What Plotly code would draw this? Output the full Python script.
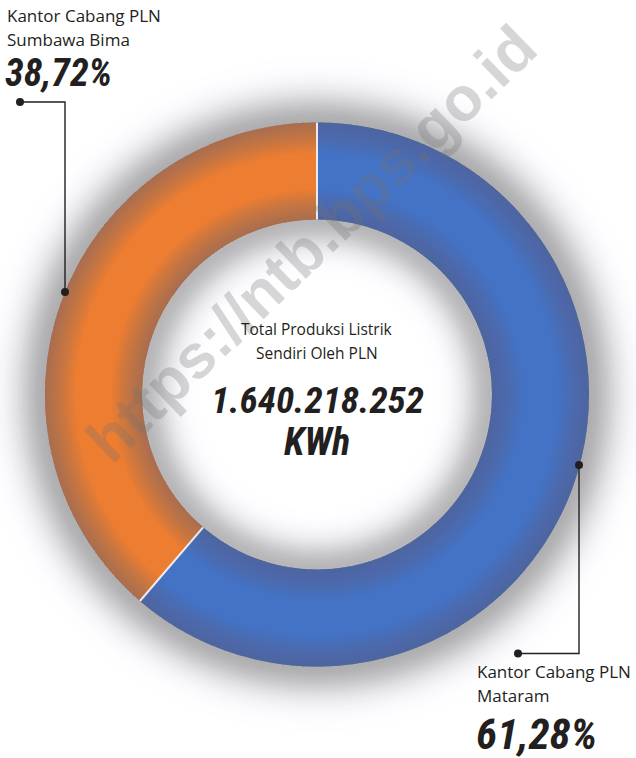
import math
import plotly.graph_objects as go

# ---- data ----
branches = ["Kantor Cabang PLN Mataram", "Kantor Cabang PLN Sumbawa Bima"]
label_line1 = ["Kantor Cabang PLN", "Kantor Cabang PLN"]
label_line2 = ["Mataram", "Sumbawa Bima"]
shares = [61.28, 38.72]
share_text = ["61,28%", "38,72%"]
colors = ["#4472C4", "#ED7D31"]
center_title = ["Total Produksi Listrik", "Sendiri Oleh PLN"]
total_text = "1.640.218.252"
unit_text = "KWh"
watermark = "https://ntb.bps.go.id"

# ---- geometry (pixels) ----
W, H = 636, 758
CX, CY = 317, 394.5
R_OUT, R_IN = 272, 175
INK = "#231f20"
HAND = "Liberation Sans Narrow, Roboto Condensed, Liberation Sans"
SANS = "Open Sans, Noto Sans, sans-serif"


def domain(rad):
    return dict(x=[(CX - rad) / W, (CX + rad) / W],
                y=[1 - (CY + rad) / H, 1 - (CY - rad) / H])


fig = go.Figure()

# invisible trace to anchor the pixel axes
fig.add_trace(go.Scatter(x=[0, W], y=[0, H], mode="markers",
                         marker=dict(opacity=0), hoverinfo="skip", showlegend=False))

# main donut
fig.add_trace(go.Pie(values=shares, labels=branches, marker=dict(colors=colors, line=dict(width=0)),
                     hole=R_IN / R_OUT, sort=False, direction="clockwise", rotation=0,
                     textinfo="none", hoverinfo="label+percent", showlegend=False,
                     domain=domain(R_OUT)))

# edge shading of the ring (outer edge)
shade = "rgba(105,108,118,0.038)"
for d in range(2, 32, 2):
    fig.add_trace(go.Pie(values=[1], marker=dict(colors=[shade], line=dict(width=0)),
                         hole=(R_OUT - d) / R_OUT, sort=False, textinfo="none",
                         hoverinfo="skip", showlegend=False, domain=domain(R_OUT)))
# edge shading of the ring (inner edge)
for d in range(2, 32, 2):
    fig.add_trace(go.Pie(values=[1], marker=dict(colors=[shade], line=dict(width=0)),
                         hole=R_IN / (R_IN + d), sort=False, textinfo="none",
                         hoverinfo="skip", showlegend=False, domain=domain(R_IN + d)))

shapes = []
# soft shadow around the ring (drawn below), largest first
def grey(v):
    v = int(round(v))
    return f"rgb({v},{v},{min(255, v + 3)})"

for rad in range(R_OUT + 90, R_OUT - 1, -2):
    d = rad - R_OUT
    v = 255 - 80 * math.exp(-(d / 30.0) ** 2)
    shapes.append(dict(type="circle", xref="x", yref="y", layer="below",
                       x0=CX - rad, x1=CX + rad, y0=CY - rad, y1=CY + rad,
                       fillcolor=grey(v), line=dict(width=0)))
for rad in range(R_IN + 2, R_IN - 80, -2):
    d = max(0, R_IN - rad)
    v = 255 - 72 * math.exp(-(d / 26.0) ** 2)
    shapes.append(dict(type="circle", xref="x", yref="y", layer="below",
                       x0=CX - rad, x1=CX + rad, y0=CY - rad, y1=CY + rad,
                       fillcolor=grey(v), line=dict(width=0)))

# slice separators
cum = 0.0
tot = sum(shares)
for s in shares:
    th = 2 * math.pi * cum / tot
    shapes.append(dict(type="line", xref="x", yref="y",
                       x0=CX + R_IN * math.sin(th), y0=CY - R_IN * math.cos(th),
                       x1=CX + R_OUT * math.sin(th), y1=CY - R_OUT * math.cos(th),
                       line=dict(color="rgba(255,255,255,0.85)", width=2)))
    cum += s

# leader lines
shapes.append(dict(type="path", xref="x", yref="y", path="M 579 465 L 579 653.5 L 518 653.5",
                   line=dict(color=INK, width=1.4)))
shapes.append(dict(type="path", xref="x", yref="y", path="M 65 292 L 65 102 L 20 102",
                   line=dict(color=INK, width=1.4)))
for (x, y) in [(579, 465), (518, 653.5), (65, 292), (20, 102)]:
    shapes.append(dict(type="circle", xref="x", yref="y", x0=x - 4, x1=x + 4, y0=y - 4, y1=y + 4,
                       fillcolor=INK, line=dict(width=0)))

ann = []
# watermark
ann.append(dict(x=311, y=243, xref="x", yref="y", text=watermark, showarrow=False,
                textangle=-44, font=dict(family="Liberation Sans, Arial", size=62,
                                         color="rgba(115,115,115,0.29)", weight="bold")))

def txt(x, y, t, size, family=SANS, xanchor="left", bold=False, italic=False):
    f = dict(family=family, size=size, color=INK)
    if bold:
        f["weight"] = "bold"
    if italic:
        f["style"] = "italic"
    ann.append(dict(x=x, y=y, xref="x", yref="y", text=t, showarrow=False,
                    xanchor=xanchor, yanchor="middle", font=f))

# left label (Sumbawa Bima)
txt(5, 15, label_line1[1], 17)
txt(5, 39, label_line2[1], 17)
txt(3, 73, share_text[1], 38, family=HAND, bold=True, italic=True)
# right label (Mataram)
txt(475, 671, label_line1[0], 17)
txt(475, 695, label_line2[0], 17)
txt(474, 734, share_text[0], 43, family=HAND, bold=True, italic=True)
# centre
txt(CX, 329, center_title[0], 15.5, xanchor="center")
txt(CX, 353, center_title[1], 15.5, xanchor="center")
txt(CX, 400, total_text, 37, family=HAND, xanchor="center", bold=True, italic=True)
txt(CX, 442, unit_text, 38, family=HAND, xanchor="center", bold=True, italic=True)

fig.update_layout(
    width=W, height=H, margin=dict(l=0, r=0, t=0, b=0),
    paper_bgcolor="white", plot_bgcolor="white",
    xaxis=dict(range=[0, W], visible=False, fixedrange=True),
    yaxis=dict(range=[H, 0], visible=False, fixedrange=True),
    shapes=shapes, annotations=ann, showlegend=False,
)

fig.write_html("out.html", config={"displayModeBar": False},
               post_script="document.body.style.margin='0';document.body.style.overflow='hidden';")
